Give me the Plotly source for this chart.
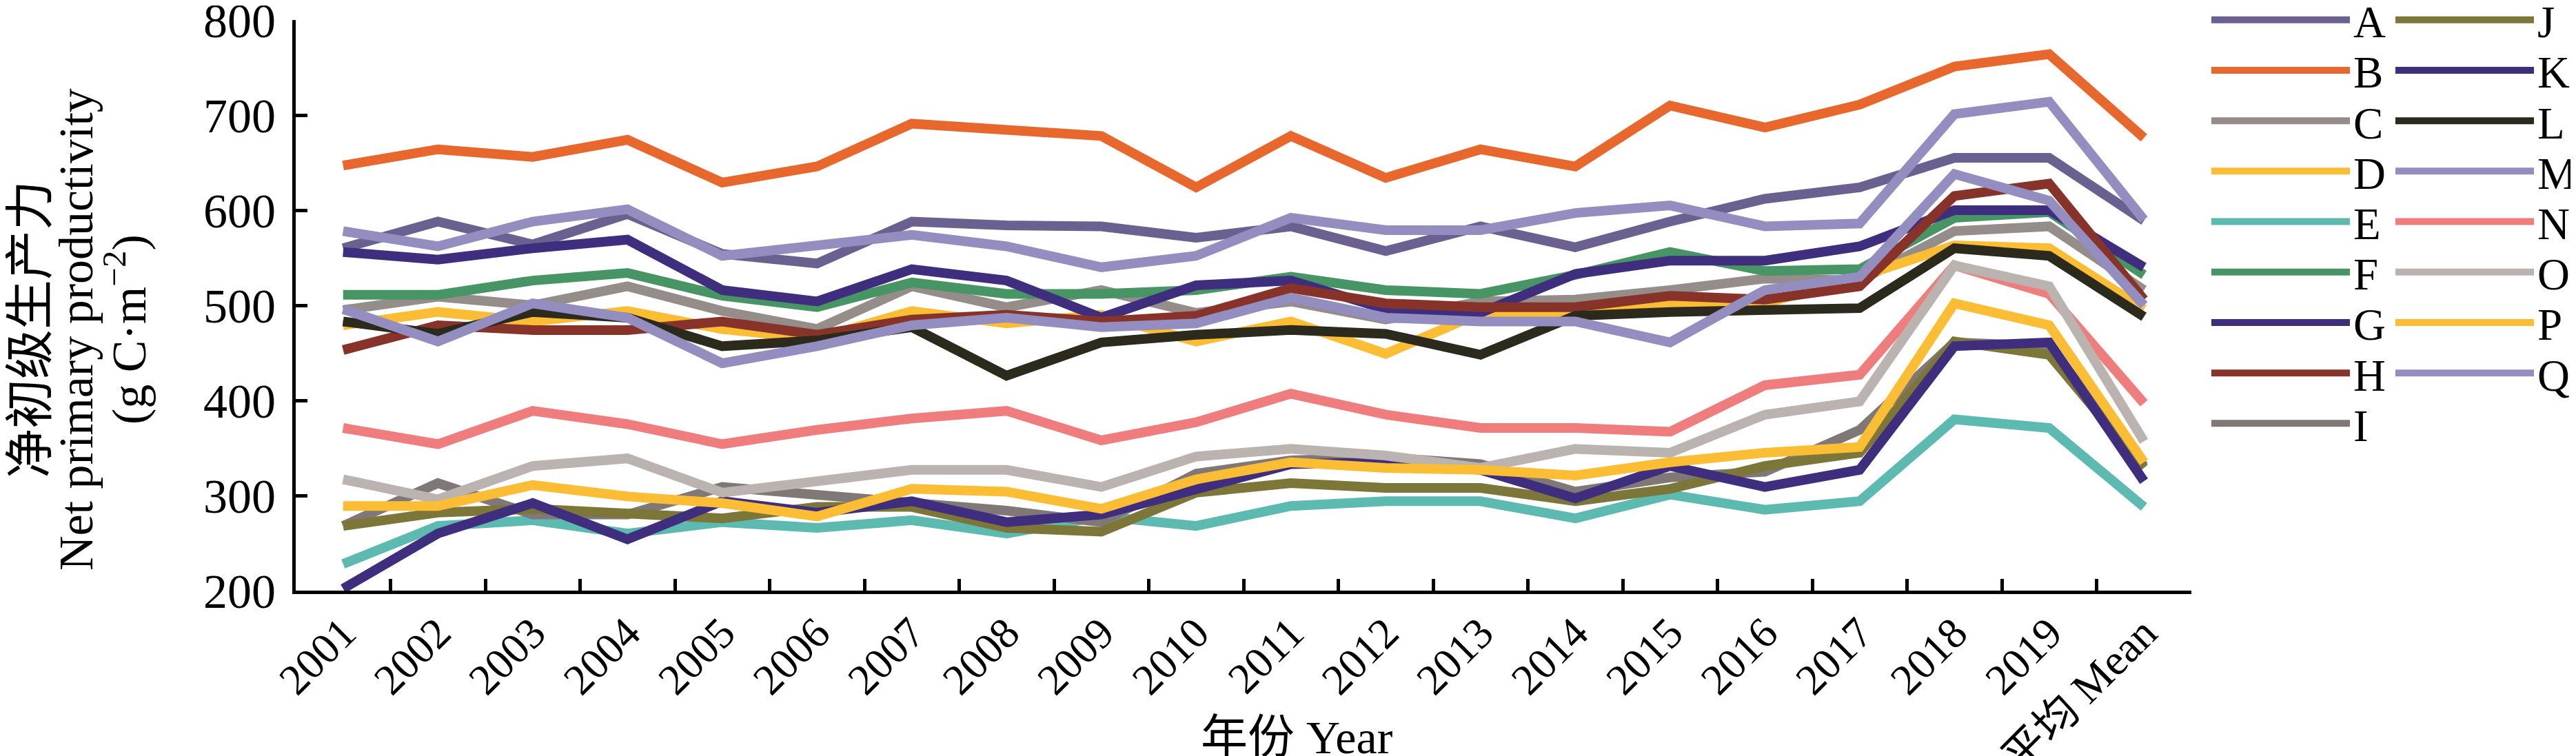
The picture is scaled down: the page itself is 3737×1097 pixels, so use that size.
import plotly.graph_objects as go

categories = [str(y) for y in range(2001, 2020)] + ["平均 Mean"]

series_names = ["A", "B", "C", "D", "E", "F", "G", "H", "I",
                "J", "K", "L", "M", "N", "O", "P", "Q"]

A = [560, 588, 564, 596, 554, 544, 588, 584, 583, 571, 583, 557, 583, 561, 588, 612, 624, 655, 655, 589]
B = [647, 664, 656, 674, 629, 646, 691, 685, 678, 624, 678, 634, 664, 646, 710, 687, 711, 751, 764, 676]
C = [495, 509, 500, 520, 494, 475, 520, 498, 516, 492, 504, 485, 504, 506, 516, 528, 526, 578, 583, 516]
D = [479, 493, 483, 494, 475, 465, 494, 481, 490, 462, 483, 449, 492, 492, 500, 502, 530, 563, 560, 496]
E = [228, 268, 274, 260, 272, 266, 274, 260, 278, 268, 289, 294, 294, 276, 301, 285, 294, 380, 371, 288]
F = [511, 511, 526, 534, 510, 498, 524, 512, 512, 516, 530, 516, 512, 532, 556, 536, 538, 592, 598, 532]
G = [556, 548, 560, 569, 516, 504, 538, 526, 487, 521, 526, 496, 492, 533, 547, 547, 562, 600, 600, 540]
H = [453, 479, 474, 474, 483, 469, 485, 490, 483, 489, 518, 502, 498, 498, 510, 506, 520, 615, 628, 506]
I = [268, 313, 280, 280, 309, 301, 294, 284, 272, 323, 337, 340, 333, 304, 319, 325, 369, 461, 457, 331]
J = [268, 282, 286, 282, 276, 288, 288, 266, 262, 303, 313, 308, 308, 294, 307, 331, 345, 462, 448, 329]
K = [202, 260, 292, 254, 294, 282, 294, 272, 280, 307, 333, 335, 327, 297, 331, 309, 327, 457, 461, 315]
L = [483, 470, 493, 487, 457, 463, 477, 426, 461, 469, 474, 470, 448, 489, 493, 494, 497, 560, 552, 488]
M = [578, 562, 588, 601, 552, 562, 574, 562, 540, 552, 592, 579, 579, 597, 605, 583, 586, 701, 714, 590]
N = [371, 354, 389, 375, 354, 369, 381, 389, 358, 377, 407, 385, 371, 371, 367, 416, 427, 542, 512, 397]
O = [317, 296, 331, 339, 303, 315, 327, 327, 309, 341, 349, 342, 329, 349, 345, 385, 399, 542, 520, 357]
P = [289, 289, 311, 299, 292, 278, 307, 304, 286, 317, 335, 329, 327, 321, 335, 345, 351, 502, 479, 335]
Q = [496, 462, 502, 487, 439, 457, 479, 487, 477, 481, 508, 487, 483, 483, 461, 516, 530, 638, 610, 500]

series_values = [A, B, C, D, E, F, G, H, I, J, K, L, M, N, O, P, Q]

colors = ["#6B6190", "#E8672C", "#958D89", "#FBBD33", "#5DBAB1", "#479565",
          "#3F2E7E", "#87332A", "#807777", "#7C7638", "#3F2E7E", "#2C2A1C",
          "#938EBF", "#F07D7D", "#BAB3AF", "#FBBD33", "#938EBF"]

y_ticks = [200, 300, 400, 500, 600, 700, 800]

FONT = "Liberation Serif, Times New Roman, Noto Sans CJK SC, serif"
W, H = 3737, 1097
ML, MR, MT, MB = 421, 566, 21, 248
PW, PH = W - ML - MR, H - MT - MB

def px_x(px):
    return (px - ML) / PW

def px_y(py):
    return (H - MB - py) / PH

fig = go.Figure()
legend_layouts = {}
for i, (name, vals, col) in enumerate(zip(series_names, series_values, colors)):
    lname = "legend" if i == 0 else f"legend{i + 1}"
    column, row = (0, i) if i < 9 else (1, i - 9)
    lx = 3195 if column == 0 else 3462
    ly = 21 + row * 73.2
    legend_layouts[lname] = dict(
        x=lx / W, y=1 - ly / H, xref="container", yref="container",
        xanchor="left", yanchor="middle",
        font=dict(size=65, family=FONT, color="black"),
        itemwidth=201, bgcolor="rgba(0,0,0,0)", borderwidth=0,
    )
    fig.add_trace(go.Scatter(
        x=categories, y=vals, name=name, mode="lines",
        line=dict(color=col, width=14),
        legend=lname,
    ))

fig.update_layout(
    width=W, height=H,
    margin=dict(l=ML, r=MR, t=MT, b=MB, autoexpand=False),
    paper_bgcolor="white", plot_bgcolor="white",
    font=dict(family=FONT, size=70, color="black"),
    showlegend=True,
    **legend_layouts,
)

fig.update_xaxes(
    type="category", categoryorder="array", categoryarray=categories,
    range=[-0.5, len(categories) - 0.5],
    showline=True, linecolor="black", linewidth=5,
    ticks="inside", ticklen=17, tickwidth=5, tickcolor="black",
    tickson="boundaries", tickangle=-45,
    tickfont=dict(size=63, family=FONT),
    ticklabeloverflow="allow", ticklabelstandoff=-6,
    showgrid=False, zeroline=False,
)
fig.update_yaxes(
    range=[200, 800], tickvals=y_ticks,
    showline=True, linecolor="black", linewidth=5,
    ticks="inside", ticklen=17, tickwidth=5, tickcolor="black",
    tickfont=dict(size=70, family=FONT),
    ticklabeloverflow="allow", ticklabelstandoff=10,
    showgrid=False, zeroline=False,
)

ytitle = ["净初级生产力", "Net primary productivity", "(g C·m<sup>−2</sup>)"]
ytitle_x = [36, 102, 174]
ytitle_size = [72, 70, 70]
for txt, xx, sz in zip(ytitle, ytitle_x, ytitle_size):
    fig.add_annotation(text=txt, xref="paper", yref="paper",
                       x=px_x(xx), y=px_y(470), textangle=-90,
                       showarrow=False, xanchor="center", yanchor="middle",
                       font=dict(size=sz, family=FONT))

fig.add_annotation(text="年份 Year", xref="paper", yref="paper",
                   x=px_x(1873), y=px_y(1062), showarrow=False,
                   xanchor="center", yanchor="middle",
                   font=dict(size=68, family=FONT))

fig.write_html("out.html")
